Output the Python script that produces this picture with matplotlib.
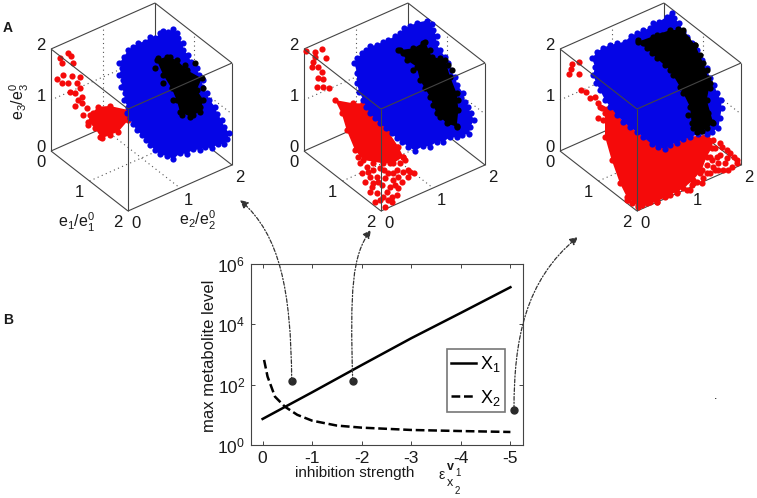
import matplotlib
import numpy as np
from matplotlib import pyplot as plt
from matplotlib.patches import FancyArrowPatch
from matplotlib.path import Path

matplotlib.use("Agg")

plt.rcParams["font.family"] = ["Liberation Sans", "DejaVu Sans"]
plt.rcParams["mathtext.fontset"] = "custom"
plt.rcParams["mathtext.rm"] = "Liberation Sans"

TEXT = "#1a1a1a"
EDGE = "#444444"
BLUE = "#0505e6"
RED = "#f50a0a"

# panel scatter at 3x zoom (crop pixels)
CROP_X = [0, 260, 510]
PANEL_SHIFT = [0, 253, 509]

blue_outline = [
    [(480, 100), (490, 92), (505, 95), (520, 88), (530, 100), (535, 115), (548, 130), (550, 150), (565, 165),
     (572, 185), (590, 205), (598, 225), (608, 240), (606, 262), (620, 280), (628, 300), (645, 320), (652, 342),
     (665, 360), (672, 380), (687, 398), (682, 418), (672, 432), (655, 432), (635, 445), (615, 440), (600, 450),
     (580, 448), (560, 462), (540, 460), (520, 477), (500, 468), (480, 463), (465, 450), (450, 435), (437, 420),
     (425, 405), (410, 390), (398, 372), (390, 355), (380, 340), (383, 320), (372, 300), (375, 280), (362, 262),
     (368, 240), (357, 225), (365, 205), (358, 190), (372, 170), (385, 150), (400, 140), (415, 128), (435, 125),
     (450, 112), (465, 115)],
    [(420, 100), (432, 85), (450, 78), (470, 68), (500, 62), (515, 72), (520, 90), (530, 108), (528, 130),
     (540, 150), (555, 170), (565, 190), (570, 210), (585, 230), (592, 255), (610, 280), (615, 305), (625, 322),
     (632, 340), (642, 360), (630, 382), (628, 402), (605, 405), (590, 412), (570, 412), (550, 425), (530, 425),
     (510, 440), (490, 438), (465, 452), (445, 440), (425, 425), (410, 415), (395, 400), (378, 385), (360, 370),
     (345, 355), (330, 340), (318, 320), (310, 300), (298, 275), (290, 250), (292, 220), (283, 190), (292, 175),
     (305, 160), (318, 150), (330, 138), (350, 135), (370, 125), (385, 120), (405, 108)],
    [(485, 38), (492, 55), (508, 70), (520, 95), (532, 110), (545, 130), (560, 150), (575, 180), (590, 205),
     (600, 235), (612, 255), (622, 280), (633, 300), (635, 325), (630, 355), (625, 385), (605, 395), (590, 402),
     (565, 402), (540, 412), (520, 418), (500, 428), (480, 435), (465, 447), (445, 440), (425, 432), (400, 412),
     (380, 395), (360, 382), (340, 365), (320, 345), (300, 320), (285, 300), (270, 270), (258, 248), (250, 225),
     (255, 200), (246, 175), (262, 155), (280, 143), (300, 135), (322, 130), (345, 125), (362, 108), (380, 100),
     (400, 90), (420, 85), (430, 68), (448, 65), (470, 50)],
]
black_outline = [
    [(470, 180), (500, 170), (530, 180), (560, 210), (605, 235), (590, 270), (610, 300), (600, 335), (570, 350),
     (540, 335), (530, 300), (515, 265), (490, 225)],
    [(420, 150), (460, 145), (495, 125), (515, 170), (555, 180), (570, 230), (590, 280), (595, 330), (590, 380),
     (560, 370), (530, 340), (510, 290), (480, 240), (470, 200), (440, 180)],
    [(385, 125), (440, 105), (480, 90), (520, 90), (555, 135), (580, 190), (600, 250), (590, 300), (610, 370),
     (590, 385), (560, 395), (545, 370), (540, 320), (510, 260), (480, 210), (440, 175), (410, 145)],
]
black_fringe = [
    [(465, 205), (490, 250), (520, 300), (545, 345), (580, 345), (600, 320), (610, 265), (585, 190), (555, 195),
     (475, 175), (510, 172)],
    [(415, 150), (430, 160), (460, 210), (490, 130), (510, 150), (540, 175), (565, 195), (575, 210), (595, 300),
     (580, 340), (590, 378), (565, 365), (540, 350), (520, 315), (495, 265)],
    [(385, 120), (400, 130), (430, 110), (455, 105), (505, 88), (530, 118), (555, 135), (570, 165), (590, 210),
     (595, 235), (600, 265), (595, 340), (605, 365), (575, 392), (550, 385), (535, 345), (520, 280), (490, 225),
     (465, 195), (425, 160)],
]
red_outline = [
    [(270, 345), (295, 320), (330, 318), (385, 330), (385, 360), (355, 395), (330, 405), (305, 415), (285, 385),
     (265, 365)],
    [(310, 310), (350, 350), (385, 395), (415, 440), (430, 470), (400, 490), (370, 490), (310, 480), (285, 450),
     (260, 390), (245, 340), (225, 300), (280, 310)],
    [(285, 340), (270, 320), (300, 320), (340, 365), (380, 395), (425, 430), (465, 445), (500, 425), (540, 410),
     (590, 405), (610, 420), (605, 445), (590, 470), (575, 510), (550, 540), (520, 565), (480, 585), (440, 605),
     (385, 620), (350, 590), (330, 550), (305, 480), (285, 410)],
]
red_sparse = [
    [(205, 160), (212, 168), (180, 175), (185, 190), (220, 188), (172, 236), (190, 225), (185, 250), (215, 228),
     (240, 230), (205, 250), (230, 250), (240, 265), (210, 275), (225, 280), (245, 290), (235, 300), (225, 318),
     (245, 310), (260, 325), (250, 345), (265, 375), (300, 410), (280, 340)],
    [(137, 152), (165, 155), (185, 148), (165, 170), (198, 175), (160, 185), (155, 200), (175, 200), (185, 215),
     (175, 235), (190, 238), (172, 262), (190, 260), (207, 265), (430, 470), (410, 440), (435, 480), (400, 465),
     (420, 490), (390, 490), (445, 510), (462, 520), (430, 515), (410, 510), (385, 520), (360, 505), (340, 510),
     (320, 500), (300, 490), (330, 530), (350, 530), (375, 535), (400, 540), (425, 545), (445, 530), (315, 545),
     (340, 550), (365, 555), (390, 560), (415, 565), (330, 575), (350, 580), (370, 590), (395, 590), (410, 585),
     (345, 605), (395, 605), (375, 622), (295, 470), (340, 490), (305, 520), (325, 515), (355, 545), (380, 575),
     (405, 555), (360, 600), (385, 600), (335, 560), (450, 515), (415, 530), (372, 510), (398, 520)],
    [(185, 192), (208, 187), (182, 208), (207, 222), (178, 222), (212, 270), (228, 275), (240, 295), (255, 292),
     (265, 310), (275, 325), (265, 355), (280, 360), (630, 430), (650, 450), (680, 480), (665, 500), (640, 510),
     (610, 500), (590, 520), (620, 470), (600, 470), (570, 520), (550, 550), (540, 570), (500, 575), (470, 585),
     (440, 605), (410, 610), (355, 600), (385, 615), (650, 475), (625, 490), (575, 550), (635, 440), (615, 445),
     (660, 460), (672, 470), (630, 465), (645, 490), (615, 510), (600, 520), (580, 535), (560, 545), (530, 570),
     (500, 580), (465, 590), (420, 605), (395, 615), (365, 610), (350, 600), (545, 555), (590, 495), (625, 510),
     (680, 490), (655, 510), (605, 480)],
]

# bottom plot
strength_x1 = [0, -1, -2, -3, -4, -5]
level_x1 = [7.3, 56, 447, 3467, 24000, 170000]
strength_x2 = [-0.03, -0.1, -0.25, -0.45, -0.7, -1, -1.5, -2, -3, -4, -5]
level_x2 = [660, 185, 40, 18.6, 10, 6.4, 4.4, 3.76, 3.15, 2.9, 2.7]
picked_strength = [-0.585, -1.82, -5.07]
picked_level = [132, 132, 15]

y_ticks = [1, 100, 10000, 1000000]
y_tick_labels = ["$\\mathregular{10^{0}}$", "$\\mathregular{10^{2}}$", "$\\mathregular{10^{4}}$", "$\\mathregular{10^{6}}$"]
x_ticks = [0, -1, -2, -3, -4, -5]
x_tick_labels = ["0", "-1", "-2", "-3", "-4", "-5"]

cube_tick_values = [0, 1, 2]

# arrows from the picked points, figure pixels: start, two controls, end
arrow_paths = [
    [(291.7, 381), (291, 290), (280, 235), (240, 200)],
    [(352.7, 381), (350, 290), (352, 255), (371, 230)],
    [(514, 409), (514, 340), (525, 280), (578, 237)],
]


def project(e1, e2, e3, shift=0):
    return 51 + shift + 38.5 * e1 + 52 * e2, 151 + 30 * e1 - 23 * e2 - 51 * e3


def cube_line(ax, start, end, shift, **kwargs):
    a = project(*start, shift)
    b = project(*end, shift)
    ax.plot([a[0], b[0]], [a[1], b[1]], **kwargs)


def draw_cube(ax, shift, panel):
    solid = dict(color=EDGE, lw=0.8, solid_capstyle="butt")
    dotted = dict(color="#555555", lw=0.8, ls=(0, (1, 3)))

    # back grid
    cube_line(ax, (1, 0, 0), (1, 2, 0), shift, zorder=1, **dotted)
    cube_line(ax, (0, 1, 0), (2, 1, 0), shift, zorder=1, **dotted)
    cube_line(ax, (0, 1, 0), (0, 1, 2), shift, zorder=1, **dotted)
    cube_line(ax, (0, 0, 1), (0, 2, 1), shift, zorder=1, **dotted)
    cube_line(ax, (0, 2, 1), (2, 2, 1), shift, zorder=1, **dotted)
    cube_line(ax, (1, 2, 0), (1, 2, 2), shift, zorder=1, **dotted)

    # back edges
    for start, end in [((0, 0, 0), (0, 2, 0)), ((0, 2, 0), (2, 2, 0)), ((0, 2, 0), (0, 2, 2)),
                       ((0, 0, 0), (0, 0, 2)), ((0, 0, 2), (0, 2, 2)), ((0, 2, 2), (2, 2, 2)),
                       ((0, 0, 0), (2, 0, 0)), ((2, 0, 0), (2, 2, 0)), ((2, 2, 0), (2, 2, 2))]:
        cube_line(ax, start, end, shift, zorder=1.5, **solid)

    # point clouds
    crop = CROP_X[panel]
    clouds = [(red_outline[panel], RED, 2), (blue_outline[panel], BLUE, 3), (black_outline[panel], "black", 4)]
    for outline, color, z in clouds:
        pts = np.array(outline) / 3 + [crop, 0]
        ax.fill(pts[:, 0], pts[:, 1], color=color, lw=0, zorder=z)
        ax.scatter(pts[:, 0], pts[:, 1], s=20, color=color, lw=0, zorder=z)
    pts = np.array(red_sparse[panel]) / 3 + [crop, 0]
    ax.scatter(pts[:, 0], pts[:, 1], s=20, color=RED, lw=0, zorder=2)
    pts = np.array(black_fringe[panel]) / 3 + [crop, 0]
    ax.scatter(pts[:, 0], pts[:, 1], s=20, color="black", lw=0, zorder=4)

    # front edges go over the points
    for start, end in [((2, 0, 2), (0, 0, 2)), ((2, 0, 2), (2, 2, 2)), ((2, 0, 2), (2, 0, 0))]:
        cube_line(ax, start, end, shift, zorder=5, **solid)

    for value in cube_tick_values:
        x, y = project(0, 0, value, shift)
        ax.text(x - 10, y - 4, str(value), fontsize=12, color=TEXT, ha="center", va="center")
        x, y = project(value, 0, 0, shift)
        ax.text(x - 10, y + 11, str(value), fontsize=12, color=TEXT, ha="center", va="center")
        x, y = project(2, value, 0, shift)
        ax.text(x + 8, y + 12, str(value), fontsize=12, color=TEXT, ha="center", va="center")


fig = plt.figure(figsize=(7.57, 4.98), dpi=100)

# bottom plot, box at pixels 251..523 x 264..445
ax_plot = fig.add_axes([250.7 / 757, 1 - 445 / 498, 272.6 / 757, 181 / 498])
ax_plot.set_yscale("log")
ax_plot.set_xlim(0.24, -5.26)
ax_plot.set_ylim(1, 1e6)
ax_plot.plot(strength_x1, level_x1, color="black", lw=1.8, label="$\\mathregular{X_1}$")
ax_plot.plot(strength_x2, level_x2, color="black", lw=1.8, ls=(0, (3.5, 1.5)), label="$\\mathregular{X_2}$")
ax_plot.plot(picked_strength, picked_level, "o", color="#2a2a2a", ms=5, zorder=6, clip_on=False)
ax_plot.set_xticks(x_ticks)
ax_plot.set_xticklabels(x_tick_labels)
ax_plot.set_yticks(y_ticks)
ax_plot.set_yticklabels(y_tick_labels)
ax_plot.minorticks_off()
ax_plot.tick_params(direction="in", length=3, width=0.7, color=EDGE, top=True, right=True,
                    labelsize=12.5, labelcolor=TEXT, pad=4)
for spine in ax_plot.spines.values():
    spine.set_color(EDGE)
    spine.set_linewidth(0.8)
legend = ax_plot.legend(loc="lower left", bbox_to_anchor=(0.719, 0.182), borderaxespad=0, fancybox=False,
                        framealpha=1, edgecolor="#777777", fontsize=13, handlelength=1.4, handletextpad=0.2,
                        labelspacing=0.75, borderpad=0.25)
legend.get_frame().set_linewidth(1.2)

# overlay in figure pixels for the cubes, arrows and loose labels
ax = fig.add_axes([0, 0, 1, 1], facecolor="none")
ax.set_xlim(0, 757)
ax.set_ylim(498, 0)
ax.axis("off")

for panel in range(3):
    draw_cube(ax, PANEL_SHIFT[panel], panel)

for points in arrow_paths:
    path = Path(points, [Path.MOVETO, Path.CURVE4, Path.CURVE4, Path.CURVE4])
    ax.add_patch(FancyArrowPatch(path=path, arrowstyle="-|>", mutation_scale=12, lw=0.9, color="#333333",
                                 linestyle=(0, (3, 1.5, 1, 1.5)), zorder=7))

ax.text(8, 28, "A", fontsize=10, fontweight="bold", color=TEXT, ha="center", va="center")
ax.text(8, 320, "B", fontsize=10, fontweight="bold", color=TEXT, ha="center", va="center")
ax.text(77, 222, "$\\mathregular{e_1/e_1^0}$", fontsize=11.5, color=TEXT, ha="center", va="center")
ax.text(197, 220, "$\\mathregular{e_2/e_2^0}$", fontsize=11.5, color=TEXT, ha="center", va="center")
ax.text(19, 102, "$\\mathregular{e_3/e_3^0}$", fontsize=11.5, color=TEXT, ha="center", va="center", rotation=90)

ax.text(209, 356, "max metabolite level", fontsize=12, color=TEXT, ha="center", va="center", rotation=90)
ax.text(355, 472.5, "inhibition strength", fontsize=11, color=TEXT, ha="center", va="center")
ax.text(441.5, 475, "ε", fontsize=10, color=TEXT, ha="center", va="center")
ax.text(450.5, 467, "v", fontsize=9, fontweight="bold", color=TEXT, ha="center", va="center")
ax.text(457.5, 473, "1", fontsize=7, color=TEXT, ha="center", va="center")
ax.text(450, 483, "x", fontsize=9, color=TEXT, ha="center", va="center")
ax.text(457, 491, "2", fontsize=7, color=TEXT, ha="center", va="center")
ax.text(716, 396, ".", fontsize=9, color="black", ha="center", va="center")

fig.savefig("out.png", dpi=100)
